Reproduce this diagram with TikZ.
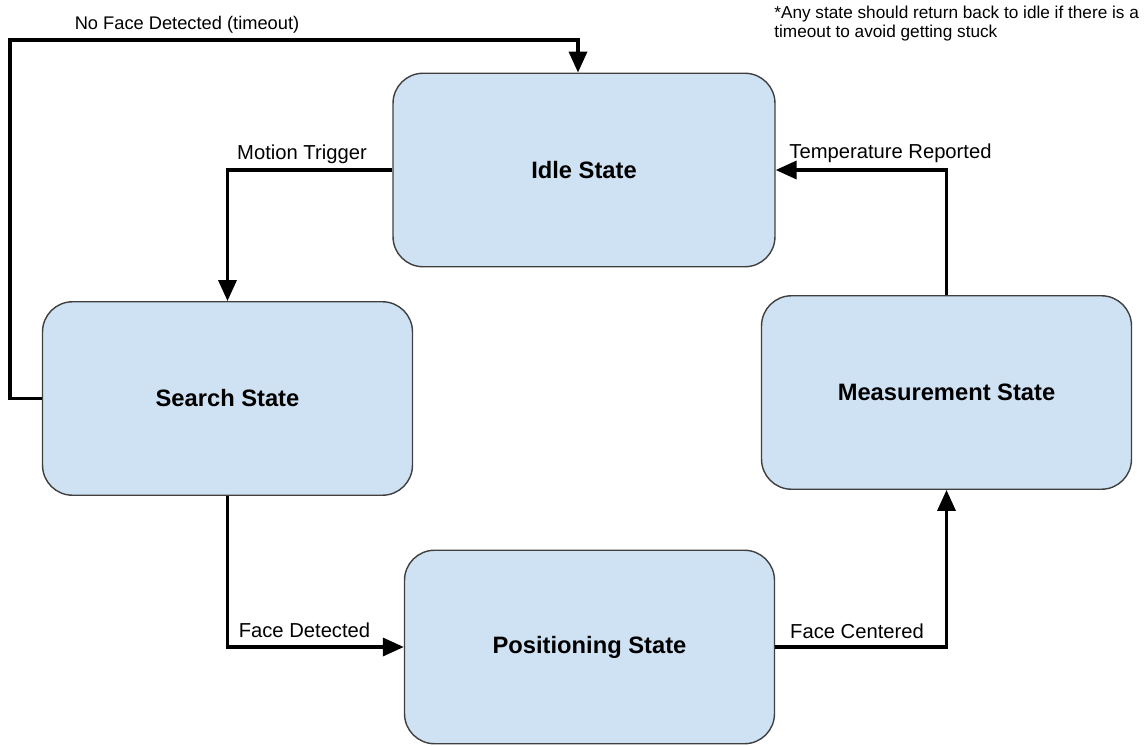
\documentclass[tikz,border=0pt]{standalone}
\usepackage{fontspec}
\setmainfont{Liberation Sans}
\usepackage{tikz}
\usetikzlibrary{arrows.meta,positioning,calc}
\definecolor{StateBlue}{HTML}{CFE2F3}
\definecolor{StateEdge}{HTML}{404040}

\begin{document}
\begin{tikzpicture}[x=0.02cm,y=-0.02cm,
  state/.style={draw=StateEdge, line width=0.8pt, fill=StateBlue, rounded corners=0.6cm,
    minimum width=7.4cm, minimum height=3.87cm, font=\fontsize{13.5}{16}\selectfont\bfseries},
  flow/.style={line width=2pt, -{Triangle[length=0.42cm,width=0.36cm]}},
  lbl/.style={font=\fontsize{11.5}{14}\selectfont, inner sep=0pt, anchor=base}]

\useasboundingbox (0,0) rectangle (1146,746);

% states
\node[state, minimum width=7.64cm] (idle-state) at (584,170) {Idle State};
\node[state] (search-state) at (227.5,398.5) {Search State};
\node[state] (measure-state) at (946.5,392.5) {Measurement State};
\node[state] (position-state) at (589.5,647) {Positioning State};

% transitions
\coordinate (timeout-corner) at (10,40);
\draw[flow] (search-state.west) -| (timeout-corner) -| ([xshift=-0.12cm]idle-state.north);
\draw[flow] (idle-state.west) -| (search-state.north);
\draw[flow] (search-state.south) |- (position-state.west);
\draw[flow] (position-state.east) -| (measure-state.south);
\draw[flow] (measure-state.north) |- (idle-state.east);

% labels
\node[lbl, font=\fontsize{10.4}{12}\selectfont] (timeout-label) at (187,30) {No Face Detected (timeout)};
\node[lbl] (motion-label) at (302,160) {Motion Trigger};
\node[lbl] (temp-label) at (890.5,159) {Temperature Reported};
\node[lbl] (face-label) at (304.5,637) {Face Detected};
\node[lbl] (centered-label) at (857,638) {Face Centered};

\node[anchor=north west, align=left, inner sep=0pt, font=\fontsize{9.8}{10.8}\selectfont]
  (timeout-note) at (774,6) {*Any state should return back to idle if there is a\\timeout to avoid getting stuck};
\end{tikzpicture}
\end{document}
